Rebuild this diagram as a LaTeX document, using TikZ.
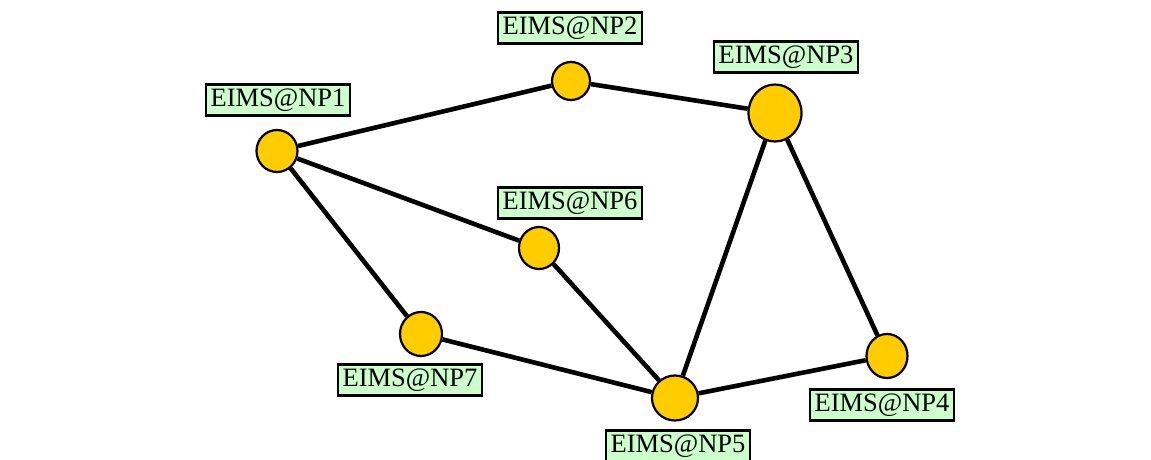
\documentclass[tikz,border=0pt]{standalone}
\usepackage{fontspec}
\setmainfont{Liberation Serif}
\usetikzlibrary{shapes.geometric,backgrounds}
\definecolor{nodefill}{HTML}{FFCC00}
\definecolor{labfill}{HTML}{CCFFCC}
\tikzset{
  np/.style={ellipse,draw=black,line width=2.2pt,fill=nodefill,inner sep=0pt},
  lab/.style={draw=black,line width=2.2pt,fill=labfill,font=\fontsize{26.5}{28}\selectfont,
    inner xsep=4.5pt,inner ysep=3pt,text height=19pt,text depth=6pt},
  link/.style={line width=4.6pt,black}
}
\begin{document}
\begin{tikzpicture}[x=1pt,y=-1pt]
\useasboundingbox (0,0) rectangle (1151,460);
\node[np,minimum width=41pt,minimum height=42pt] (n1) at (277,151) {};
\node[np,minimum width=38pt,minimum height=38pt] (n2) at (571,81) {};
\node[np,minimum width=53pt,minimum height=57pt] (n3) at (775,113) {};
\node[np,minimum width=41pt,minimum height=44pt] (n4) at (887,356) {};
\node[np,minimum width=46pt,minimum height=45pt] (n5) at (675,398) {};
\node[np,minimum width=40pt,minimum height=42pt] (n6) at (539,248) {};
\node[np,minimum width=42pt,minimum height=44pt] (n7) at (421,334) {};
\begin{scope}[on background layer]
\draw[link] (n1) -- (n2);
\draw[link] (n2) -- (n3);
\draw[link] (n1) -- (n6);
\draw[link] (n1) -- (n7);
\draw[link] (n6) -- (n5);
\draw[link] (n7) -- (n5);
\draw[link] (n3) -- (n5);
\draw[link] (n3) -- (n4);
\draw[link] (n5) -- (n4);
\end{scope}
\node[lab] (l1) at (278,100) {EIMS@NP1};
\node[lab] (l2) at (570,28) {EIMS@NP2};
\node[lab] (l3) at (786,57) {EIMS@NP3};
\node[lab] (l6) at (570,203) {EIMS@NP6};
\node[lab] (l7) at (410,380) {EIMS@NP7};
\node[lab] (l5) at (678,446) {EIMS@NP5};
\node[lab] (l4) at (882,405) {EIMS@NP4};
\end{tikzpicture}
\end{document}
